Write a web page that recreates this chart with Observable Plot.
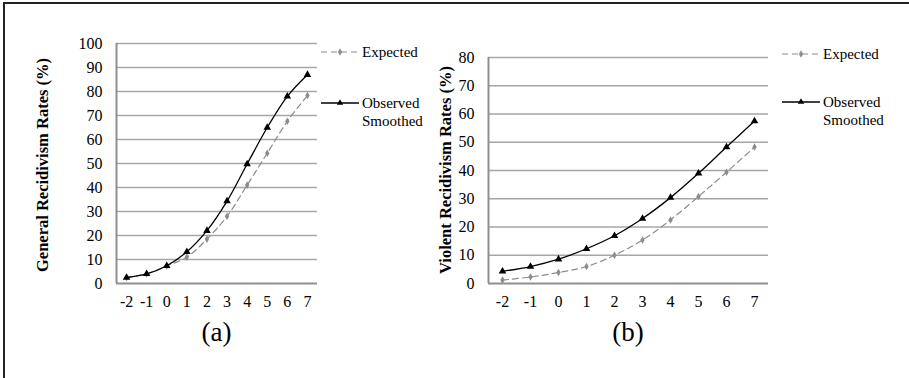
<!DOCTYPE html>
<html>
<head>
<meta charset="utf-8">
<script src="https://cdn.jsdelivr.net/npm/d3@7"></script>
<script src="https://cdn.jsdelivr.net/npm/@observablehq/plot@0.6"></script>
<style>
  html, body { margin: 0; padding: 0; background: #fff; }
  #wrap { position: relative; width: 909px; height: 378px; overflow: hidden; background: #fff;
          font-family: "Liberation Serif", "Times New Roman", serif; color: #000; }
  #border { position: absolute; left: 3px; top: 2px; width: 920px; height: 400px;
            border-left: 2px solid #222; border-top: 2px solid #222; }
  .panel { position: absolute; top: 0; }
  .panel svg { background: transparent !important; overflow: visible; }
  .ytitle { position: absolute; font-weight: bold; font-size: 16.5px; white-space: nowrap;
            transform: translate(-50%, -50%) rotate(-90deg); }
  .caption { position: absolute; font-size: 27px; transform: translate(-50%, -50%); white-space: nowrap; }
  .legend { position: absolute; top: 0; left: 0; overflow: visible; }
</style>
</head>
<body>
<div id="wrap">
  <div id="border"></div>
</div>
<script>
// ---- data ----
const xCats = [-2, -1, 0, 1, 2, 3, 4, 5, 6, 7];
const generalExpected = [2.5, 4, 7.3, 11, 18.5, 28, 41, 54.3, 67.6, 78.3];
const generalObserved = [2.5, 4, 7.4, 13.2, 22, 34.3, 49.8, 65, 78, 87];
const violentExpected = [1.2, 2.3, 3.9, 6, 10, 15.4, 22.5, 30.8, 39.4, 48.3];
const violentObserved = [4.3, 6, 8.6, 12.3, 16.9, 23, 30.4, 39, 48.3, 57.5];
const generalTicks = [0, 10, 20, 30, 40, 50, 60, 70, 80, 90, 100];
const violentTicks = [0, 10, 20, 30, 40, 50, 60, 70, 80];
const seriesNames = ["Expected", "Observed Smoothed"];
const panelTitles = ["General Recidivism Rates (%)", "Violent Recidivism Rates (%)"];
const captions = ["(a)", "(b)"];

const wrap = document.getElementById("wrap");
const GRID = "#a6a6a6", AXIS = "#8f8f8f", EXP = "#8c8c8c";

function toRows(vals) { return xCats.map((x, i) => ({x, y: vals[i]})); }

function panel({left, width, height, mL, mR, mT, mB, ticks, expected, observed}) {
  const xPad = 0.5;
  const chart = Plot.plot({
    width, height,
    marginLeft: mL, marginRight: mR, marginTop: mT, marginBottom: mB,
    style: {fontFamily: "'Liberation Serif', 'Times New Roman', serif", fontSize: "16px", color: "#000", background: "transparent"},
    x: {type: "linear", domain: [xCats[0] - xPad, xCats[xCats.length - 1] + xPad]},
    y: {domain: [ticks[0], ticks[ticks.length - 1]]},
    marks: [
      Plot.ruleY(ticks.slice(1), {stroke: GRID, strokeWidth: 1.4}),
      Plot.ruleX([xCats[0] - xPad], {stroke: AXIS, strokeWidth: 2}),
      Plot.ruleY([ticks[0]], {stroke: AXIS, strokeWidth: 2}),
      Plot.axisY({ticks, tickSize: 0, tickPadding: 14, label: null, tickFormat: d => String(d)}),
      Plot.axisX({ticks: xCats, tickSize: 0, tickPadding: 12, label: null, tickFormat: d => String(d)}),
      Plot.line(toRows(expected), {x: "x", y: "y", stroke: EXP, strokeWidth: 1.2, strokeDasharray: "6,4", curve: "catmull-rom"}),
      Plot.dot(toRows(expected), {x: "x", y: "y", symbol: "diamond", r: 2.3, fill: EXP, stroke: "none"}),
      Plot.line(toRows(observed), {x: "x", y: "y", stroke: "#000", strokeWidth: 1.3, curve: "catmull-rom"}),
      Plot.dot(toRows(observed), {x: "x", y: "y", symbol: "triangle", r: 2.8, fill: "#000", stroke: "none"})
    ]
  });
  const div = document.createElement("div");
  div.className = "panel";
  div.style.left = left + "px";
  div.appendChild(chart);
  wrap.appendChild(div);
}

panel({left: 0, width: 320, height: 320, mL: 116, mR: 3, mT: 43, mB: 37,
       ticks: generalTicks, expected: generalExpected, observed: generalObserved});
panel({left: 440, width: 330, height: 320, mL: 48, mR: 2, mT: 57, mB: 37,
       ticks: violentTicks, expected: violentExpected, observed: violentObserved});

// axis titles
[[43, 165], [446, 170]].forEach(([x, y], i) => {
  const d = document.createElement("div");
  d.className = "ytitle";
  d.style.left = x + "px"; d.style.top = y + "px";
  d.textContent = panelTitles[i];
  wrap.appendChild(d);
});
// captions
[[216.5, 332], [628, 332]].forEach(([x, y], i) => {
  const d = document.createElement("div");
  d.className = "caption";
  d.style.left = x + "px"; d.style.top = y + "px";
  d.textContent = captions[i];
  wrap.appendChild(d);
});

// legends
const leg = d3.select(wrap).append("svg").attr("class", "legend").attr("width", 909).attr("height", 378)
  .style("font-family", "'Liberation Serif', 'Times New Roman', serif").style("font-size", "15px");
[[321, 52, 103], [782, 54, 102]].forEach(([x0, yE, yO]) => {
  const x1 = x0 + 38, xm = (x0 + x1) / 2;
  leg.append("line").attr("x1", x0).attr("x2", x1).attr("y1", yE).attr("y2", yE)
    .attr("stroke", EXP).attr("stroke-width", 1.2).attr("stroke-dasharray", "6,4");
  leg.append("path").attr("d", d3.symbol(d3.symbolDiamond, 16)()).attr("transform", `translate(${xm},${yE})`).attr("fill", EXP);
  leg.append("text").attr("x", x1 + 3).attr("y", yE).attr("dy", "0.32em").text(seriesNames[0]);
  leg.append("line").attr("x1", x0).attr("x2", x1).attr("y1", yO).attr("y2", yO)
    .attr("stroke", "#000").attr("stroke-width", 1.3);
  leg.append("path").attr("d", d3.symbol(d3.symbolTriangle, 18)()).attr("transform", `translate(${xm},${yO})`).attr("fill", "#000");
  const words = seriesNames[1].split(" ");
  const t = leg.append("text").attr("x", x1 + 3).attr("y", yO).attr("dy", "0.32em");
  t.append("tspan").attr("x", x1 + 3).text(words[0]);
  t.append("tspan").attr("x", x1 + 3).attr("dy", "1.2em").text(words[1]);
});
</script>
</body>
</html>
